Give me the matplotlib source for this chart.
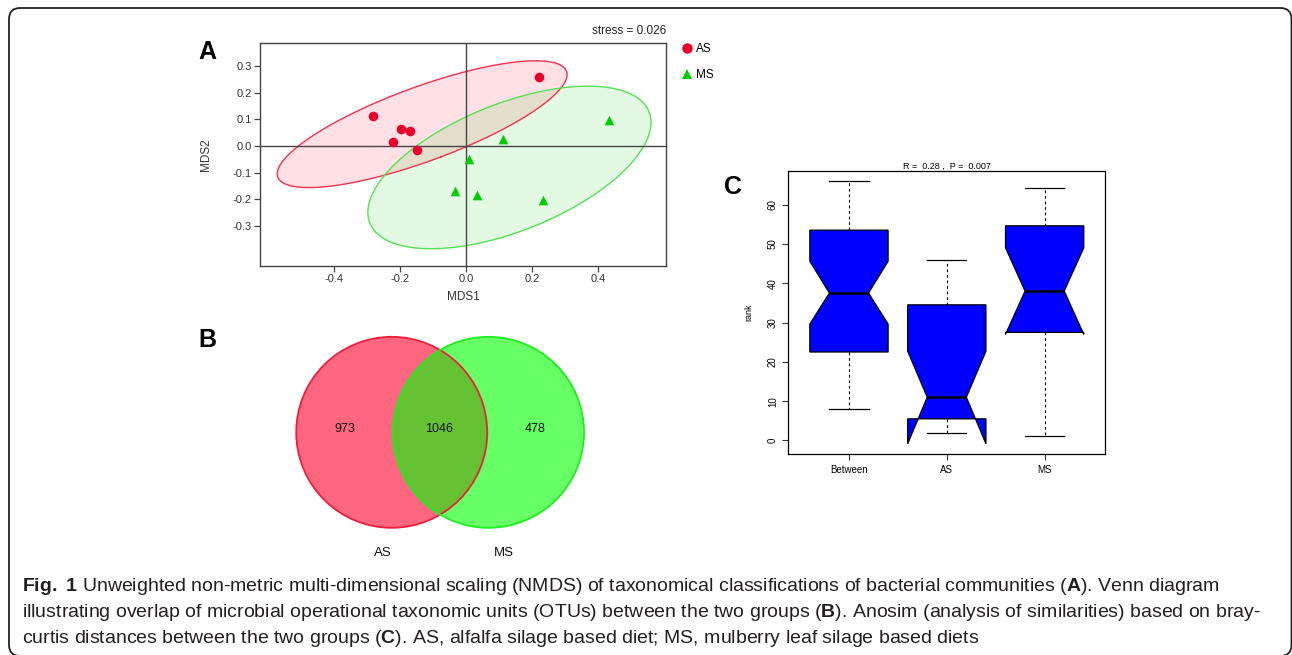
import numpy as np
import matplotlib
matplotlib.use('Agg')
import matplotlib.pyplot as plt
from matplotlib.patches import Circle, FancyBboxPatch
from matplotlib.lines import Line2D
import matplotlib.transforms as mtransforms

# ---------------- data ----------------
# Panel A: NMDS coordinates
as_mds1 = [0.221, -0.280, -0.196, -0.169, -0.222, -0.149]
as_mds2 = [0.259, 0.111, 0.064, 0.057, 0.014, -0.015]
ms_mds1 = [0.434, 0.111, 0.010, -0.032, 0.034, 0.232]
ms_mds2 = [0.098, 0.025, -0.050, -0.168, -0.185, -0.203]
stress_text = "stress = 0.026"
group_labels = ["AS", "MS"]

# Panel B: Venn counts (AS only, shared, MS only)
venn_counts = [973, 1046, 478]

# Panel C: ANOSIM rank boxplot
anosim_groups = ["Between", "AS", "MS"]
rank_whislo = [8, 2, 1.1]
rank_q1 = [22.5, 5.5, 27.5]
rank_med = [37.5, 11, 38]
rank_q3 = [53.5, 34.5, 54.6]
rank_whishi = [66, 46, 64.2]
rank_cilo = [29.6, -0.85, 27.0]
rank_cihi = [45.6, 22.7, 49.0]
anosim_title = "R =  0.28 ,  P =  0.007"

caption_lines = [
    r"$\mathbf{Fig.}$ $\mathbf{1}$ Unweighted non-metric multi-dimensional scaling (NMDS) of taxonomical classifications of bacterial communities ($\mathbf{A}$). Venn diagram",
    r"illustrating overlap of microbial operational taxonomic units (OTUs) between the two groups ($\mathbf{B}$). Anosim (analysis of similarities) based on bray-",
    r"curtis distances between the two groups ($\mathbf{C}$). AS, alfalfa silage based diet; MS, mulberry leaf silage based diets",
]

# ---------------- figure ----------------
W, H = 1292, 655
plt.rcParams['font.family'] = ['Liberation Sans', 'DejaVu Sans']
plt.rcParams['mathtext.fontset'] = 'custom'
plt.rcParams['mathtext.rm'] = 'Liberation Sans'
plt.rcParams['mathtext.bf'] = 'Liberation Sans:bold'
fig = plt.figure(figsize=(W / 100, H / 100), dpi=100)


def fx(px):
    return px / W


def fy(py):
    return 1 - py / H


# outer rounded frame
frame = FancyBboxPatch((9, -1), 1291.5 - 9, 647 + 1,
                       boxstyle="round,pad=0,rounding_size=11",
                       transform=mtransforms.IdentityTransform(),
                       facecolor='none', edgecolor='#222222', lw=1.3)
fig.add_artist(frame)

# ---------------- Panel A ----------------
axA = fig.add_axes([fx(260), fy(266), 406 / W, 223 / H])
axA.set_xlim(-0.623, 0.605)
axA.set_ylim(-0.45, 0.386)

red_pt = '#E8002C'
green_pt = '#00CC00'


def ellipse_pts(x, y, conf=0.95, n=300):
    x = np.asarray(x); y = np.asarray(y)
    cov = np.cov(x, y)
    k = np.sqrt(-2 * np.log(1 - conf))
    vals, vecs = np.linalg.eigh(cov)
    t = np.linspace(0, 2 * np.pi, n)
    circ = np.vstack([np.cos(t), np.sin(t)])
    pts = vecs @ (np.sqrt(vals)[:, None] * circ) * k
    return pts[0] + x.mean(), pts[1] + y.mean()


ex, ey = ellipse_pts(as_mds1, as_mds2)
axA.fill(ex, ey, color=(1.0, 0.0, 0.17), alpha=0.12, lw=0, zorder=1)
axA.plot(ex, ey, color='#F0324E', lw=1.0, zorder=2)
ex, ey = ellipse_pts(ms_mds1, ms_mds2)
axA.fill(ex, ey, color=(0.0, 0.8, 0.0), alpha=0.11, lw=0, zorder=1)
axA.plot(ex, ey, color='#55E055', lw=1.0, zorder=2)

axA.axhline(0, color='#444444', lw=1.0, zorder=3)
axA.axvline(0, color='#444444', lw=1.0, zorder=3)

axA.scatter(as_mds1, as_mds2, s=48, color=red_pt, marker='o', zorder=4, lw=0)
axA.scatter(ms_mds1, ms_mds2, s=48, color=green_pt, marker='^', zorder=4, lw=0)

for sp in axA.spines.values():
    sp.set_color('#444444')
    sp.set_linewidth(1.0)
axA.set_xticks([-0.4, -0.2, 0.0, 0.2, 0.4])
axA.set_xticklabels(["-0.4", "-0.2", "0.0", "0.2", "0.4"])
axA.set_yticks([-0.3, -0.2, -0.1, 0.0, 0.1, 0.2, 0.3])
axA.set_yticklabels(["-0.3", "-0.2", "-0.1", "0.0", "0.1", "0.2", "0.3"])
axA.tick_params(direction='out', length=4, width=0.9, color='#444444',
                labelsize=8, labelcolor='#333333', pad=2)
axA.text(0.5, (266 - 296.7) / 223, "MDS1", transform=axA.transAxes,
         ha='center', va='center', fontsize=8.5, color='#333333')
axA.text((205.7 - 260) / 406, 0.5, "MDS2", transform=axA.transAxes,
         ha='center', va='center', rotation=90, fontsize=8.5, color='#333333')
axA.text(1.0, (266 - 31) / 223, stress_text, transform=axA.transAxes,
         ha='right', va='center', fontsize=8.5, color='#222222')

handles = [Line2D([], [], marker='o', ls='none', color=red_pt, markersize=7.5, mew=0),
           Line2D([], [], marker='^', ls='none', color=green_pt, markersize=7.5, mew=0)]
axA.legend(handles, group_labels, loc='upper left', bbox_to_anchor=(1.041, 1.0),
           frameon=False, handlelength=0.8, handletextpad=0.35, labelspacing=1.2,
           fontsize=8.5, borderaxespad=0, borderpad=0)

fig.text(fx(207), fy(52), "A", fontsize=18, fontweight='bold', ha='center', va='center')

# ---------------- Panel B ----------------
axB = fig.add_axes([fx(250), fy(570), 380 / W, 260 / H])
axB.set_xlim(-1.991, 1.988)
axB.set_ylim(-1.442, 1.281)
axB.axis('off')
cA, cM = (-0.507, 0.0), (0.507, 0.0)
red_fill = (1.0, 0.0, 43 / 255, 0.6)
green_fill = (0.0, 1.0, 0.0, 0.6)
axB.add_patch(Circle(cA, 1.0, facecolor=red_fill, edgecolor='none', zorder=1))
axB.add_patch(Circle(cM, 1.0, facecolor=green_fill, edgecolor='none', zorder=2))
axB.add_patch(Circle(cA, 1.0, fill=False, edgecolor='#F01E3C', lw=1.3, zorder=3))
axB.add_patch(Circle(cM, 1.0, fill=False, edgecolor='#1EEE1E', lw=1.3, zorder=3))
for xv, cnt in zip([-0.996, -0.008, 0.994], venn_counts):
    axB.text(xv, 0.031, str(cnt), ha='center', va='center', fontsize=9, color='#111111', zorder=4)
axB.text(-0.595, -1.267, group_labels[0], ha='center', va='center', fontsize=9.5, color='#111111')
axB.text(0.669, -1.267, group_labels[1], ha='center', va='center', fontsize=9.5, color='#111111')

fig.text(fx(207), fy(340), "B", fontsize=18, fontweight='bold', ha='center', va='center')

# ---------------- Panel C ----------------
axC = fig.add_axes([fx(788.3), fy(454.3), (1105.3 - 788.3) / W, (454.3 - 170.5) / H])
stats = []
for i, g in enumerate(anosim_groups):
    stats.append(dict(label=g, whislo=rank_whislo[i], q1=rank_q1[i], med=rank_med[i],
                      q3=rank_q3[i], whishi=rank_whishi[i], cilo=rank_cilo[i],
                      cihi=rank_cihi[i], fliers=[]))
axC.bxp(stats, positions=[1, 2, 3], widths=0.8, shownotches=True, patch_artist=True,
        showfliers=False,
        boxprops=dict(facecolor='#0000FF', edgecolor='black', lw=0.9),
        medianprops=dict(color='black', lw=1.8),
        whiskerprops=dict(color='black', lw=0.8, linestyle=(0, (2.5, 2.5))),
        capprops=dict(color='black', lw=0.9))
lo = min(min(rank_whislo), min(rank_cilo))
hi = max(max(rank_whishi), max(rank_cihi))
pad = 0.04 * (hi - lo)
axC.set_ylim(lo - pad, hi + pad)
axC.set_xlim(0.38, 3.62)
axC.set_yticks([0, 10, 20, 30, 40, 50, 60])
axC.set_xticks([1, 2, 3])
axC.set_xticklabels(anosim_groups)
axC.tick_params(axis='both', direction='out', length=4.5, width=0.8, labelsize=7,
                color='#333333', pad=3)
for lbl in axC.get_yticklabels():
    lbl.set_rotation(90)
    lbl.set_va('center')
for sp in axC.spines.values():
    sp.set_color('black')
    sp.set_linewidth(0.9)
axC.set_title(anosim_title, fontsize=6.5, pad=1.5)
axC.text((749 - 788.3) / 317, (454.3 - 312.3) / 283.8, "rank", transform=axC.transAxes,
         rotation=90, ha='center', va='center', fontsize=6.5)

fig.text(fx(733), fy(187), "C", fontsize=18, fontweight='bold', ha='center', va='center')

# ---------------- caption ----------------
renderer = fig.canvas.get_renderer()
cap_texts = []
for yb, line in zip([591, 617, 643], caption_lines):
    cap_texts.append(fig.text(fx(22), fy(yb), line, fontsize=14, ha='left', va='baseline',
                              color='#231F20'))
w0 = cap_texts[0].get_window_extent(renderer).width
size = 14 * (1223 - 22) / w0
for t in cap_texts:
    t.set_fontsize(size)

fig.savefig('out.png', dpi=100)
